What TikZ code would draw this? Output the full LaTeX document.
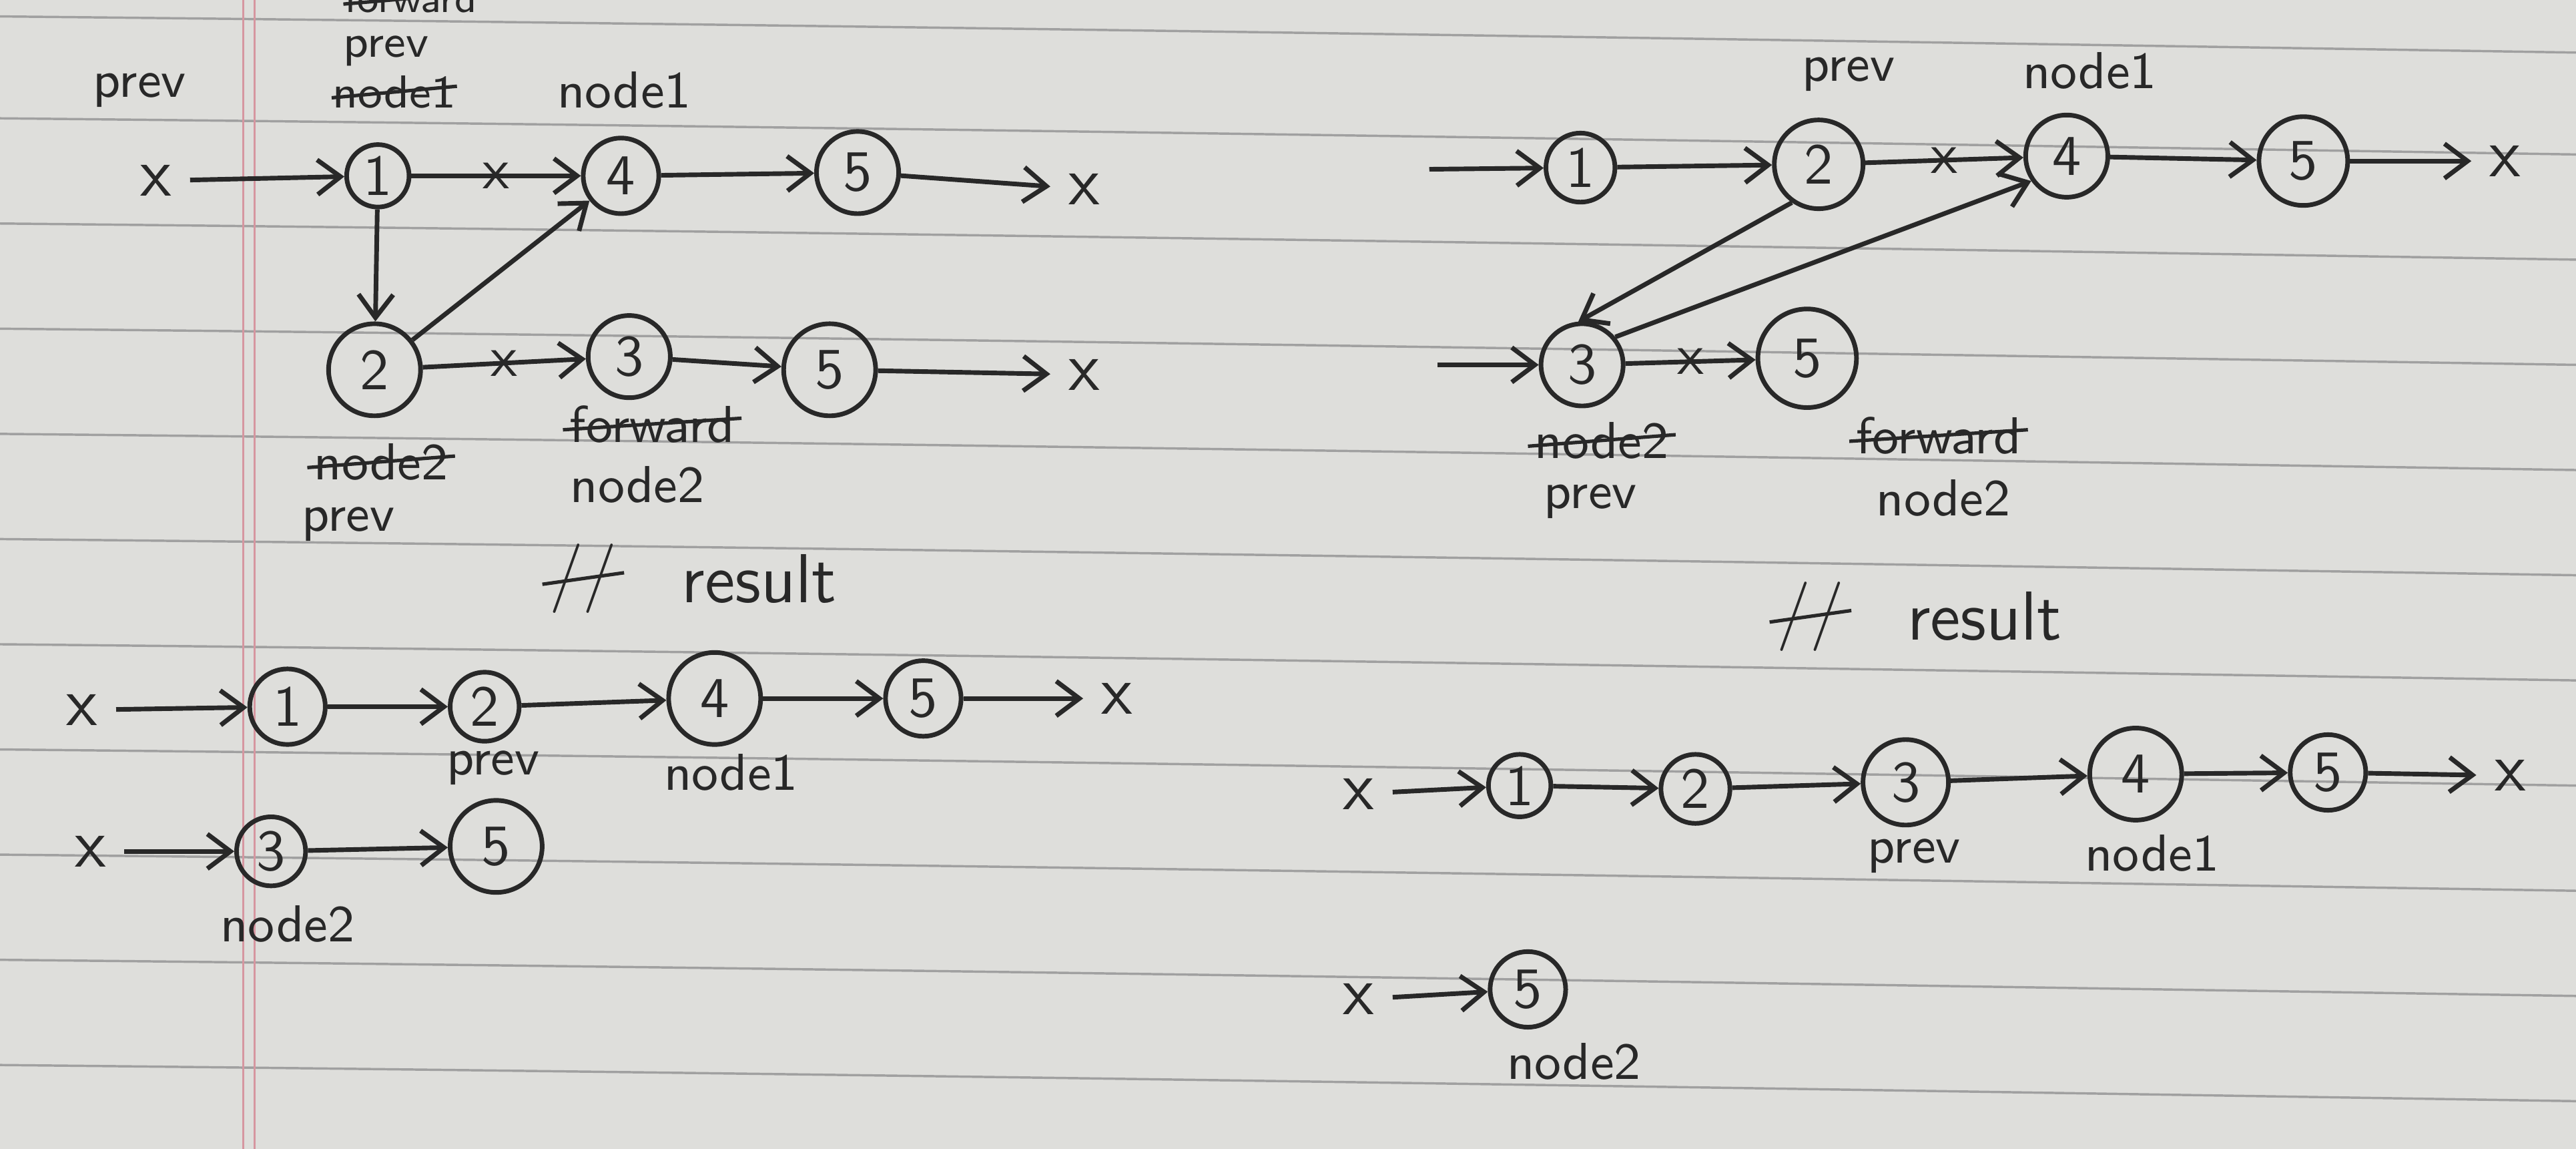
\documentclass[tikz,border=0pt]{standalone}
\usetikzlibrary{arrows.meta}
\definecolor{paper}{RGB}{222,222,219}
\definecolor{rule}{RGB}{160,160,160}
\definecolor{margin}{RGB}{214,150,160}
\definecolor{ink}{RGB}{40,40,40}
\tikzset{
  elem/.style={circle,draw=ink,thick,text=ink,inner sep=0pt,minimum size=#1,font=\sffamily},
  elem/.default=0.46cm,
  word/.style={text=ink,font=\sffamily\small,inner sep=1pt},
  struck/.style={word,append after command={([yshift=-1pt]\tikzlastnode.west) edge[ink,semithick] ([yshift=1pt]\tikzlastnode.east)}},
  nil/.style={text=ink,font=\sffamily\large,inner sep=3pt},
  xmark/.style={text=ink,font=\sffamily,inner sep=0pt},
  link/.style={->,thick,draw=ink},
  >={Straight Barb[length=4pt,width=6pt]}
}

\begin{document}
\begin{tikzpicture}

\useasboundingbox (0,0) rectangle (15.68,6.99);
\fill[paper] (0,0) rectangle (15.68,6.99);
\foreach \y in {6.89,6.27,5.63,4.99,4.35,3.71,3.07,2.43,1.79,1.15,0.51,-0.13}
  \draw[rule,thin] (0,\y) .. controls (5,\y-0.05) and (10,\y-0.13) .. (15.68,\y-0.22);
\draw[margin] (1.48,0) -- (1.48,6.99);
\draw[margin] (1.55,0) -- (1.55,6.99);

% left, before
\node[word] (Lprev) at (0.85,6.44) {prev};
\node[struck,font=\sffamily\scriptsize,inner sep=0pt] (Lfwd) at (2.50,7.00) {forward};
\node[word,font=\sffamily\footnotesize,inner sep=0pt] (Lprev1) at (2.35,6.68) {prev};
\node[struck,font=\sffamily\footnotesize,inner sep=0pt] (Lnodeold) at (2.40,6.43) {node1};
\node[word] (Lnode1) at (3.80,6.44) {node1};

\node[nil] (Lx) at (0.95,5.89) {x};
\node[elem=0.38cm] (L1) at (2.30,5.92) {1};
\node[elem] (L4) at (3.78,5.92) {4};
\node[elem=0.5cm] (L5) at (5.22,5.94) {5};
\node[nil] (Lxe) at (6.60,5.84) {x};

\node[elem=0.56cm] (L2) at (2.28,4.74) {2};
\node[elem=0.5cm] (L3) at (3.83,4.82) {3};
\node[elem=0.56cm] (L5b) at (5.05,4.74) {5};
\node[nil] (Lxf) at (6.60,4.71) {x};

\node[struck] (Lfwd2) at (3.97,4.41) {forward};
\node[word] (Lnode2) at (3.88,4.04) {node2};
\node[struck] (Lnode2old) at (2.32,4.18) {node2};
\node[word] (Lprev2) at (2.12,3.80) {prev};
\node[struck,font=\sffamily\large] (Lcom) at (3.55,3.47) {//};
\node[word,font=\sffamily\large] (Lres) at (4.62,3.47) {result};

\draw[link] (Lx) -- (L1);
\draw[link] (L1) -- node[xmark]{x} (L4);
\draw[link] (L4) -- (L5);
\draw[link] (L5) -- (Lxe);
\draw[link] (L1) -- (L2);
\draw[link] (L2) -- (L4);
\draw[link] (L2) -- node[xmark]{x} (L3);
\draw[link] (L3) -- (L5b);
\draw[link] (L5b) -- (Lxf);

% left, result
\node[nil] (Ax) at (0.50,2.67) {x};
\node[elem] (A1) at (1.75,2.69) {1};
\node[elem=0.42cm] (A2) at (2.95,2.69) {2};
\node[elem=0.56cm] (A4) at (4.35,2.74) {4};
\node[elem] (A5) at (5.62,2.74) {5};
\node[nil] (Axe) at (6.80,2.74) {x};
\node[word] (Aprev) at (3.00,2.32) {prev};
\node[word] (Anode1) at (4.45,2.29) {node1};

\node[nil] (Bx) at (0.55,1.81) {x};
\node[elem=0.42cm] (B3) at (1.65,1.81) {3};
\node[elem=0.56cm] (B5) at (3.02,1.84) {5};
\node[word] (Bnode2) at (1.75,1.37) {node2};

\draw[link] (Ax) -- (A1);
\draw[link] (A1) -- (A2);
\draw[link] (A2) -- (A4);
\draw[link] (A4) -- (A5);
\draw[link] (A5) -- (Axe);
\draw[link] (Bx) -- (B3);
\draw[link] (B3) -- (B5);

% right, before
\coordinate (Rin) at (8.70,5.96);
\node[elem=0.42cm] (R1) at (9.62,5.97) {1};
\node[elem=0.54cm] (R2) at (11.07,5.99) {2};
\node[elem=0.5cm] (R4) at (12.58,6.04) {4};
\node[elem=0.54cm] (R5) at (14.02,6.01) {5};
\node[nil] (Rxe) at (15.25,6.01) {x};
\node[word] (Rprev) at (11.25,6.54) {prev};
\node[word] (Rnode1) at (12.72,6.56) {node1};

\coordinate (Rin2) at (8.75,4.77);
\node[elem=0.5cm] (R3) at (9.63,4.77) {3};
\node[elem=0.6cm] (R5b) at (11.00,4.81) {5};
\node[struck] (Rnode2old) at (9.75,4.31) {node2};
\node[word] (Rprev2) at (9.68,3.94) {prev};
\node[struck] (Rfwd) at (11.80,4.34) {forward};
\node[word] (Rnode2) at (11.83,3.96) {node2};
\node[struck,font=\sffamily\large] (Rcom) at (11.02,3.24) {//};
\node[word,font=\sffamily\large] (Rres) at (12.08,3.24) {result};

\draw[link] (Rin) -- (R1);
\draw[link] (R1) -- (R2);
\draw[link] (R2) -- node[xmark]{x} (R4);
\draw[link] (R4) -- (R5);
\draw[link] (R5) -- (Rxe);
\draw[link] (Rin2) -- (R3);
\draw[link] (R3) -- node[xmark]{x} (R5b);
\draw[link] (R2.235) -- (R3.95);
\draw[link] (R3.40) -- (R4.215);

% right, result
\node[nil] (Cx) at (8.27,2.16) {x};
\node[elem=0.38cm] (C1) at (9.25,2.21) {1};
\node[elem=0.42cm] (C2) at (10.32,2.19) {2};
\node[elem=0.52cm] (C3) at (11.60,2.23) {3};
\node[elem=0.56cm] (C4) at (13.00,2.28) {4};
\node[elem] (C5) at (14.17,2.29) {5};
\node[nil] (Cxe) at (15.28,2.27) {x};
\node[word] (Cprev) at (11.65,1.78) {prev};
\node[word] (Cnode1) at (13.10,1.80) {node1};

\node[nil] (Dx) at (8.27,0.91) {x};
\node[elem] (D5) at (9.30,0.97) {5};
\node[word] (Dnode2) at (9.58,0.53) {node2};

\draw[link] (Cx) -- (C1);
\draw[link] (C1) -- (C2);
\draw[link] (C2) -- (C3);
\draw[link] (C3) -- (C4);
\draw[link] (C4) -- (C5);
\draw[link] (C5) -- (Cxe);
\draw[link] (Dx) -- (D5);

\end{tikzpicture}
\end{document}
